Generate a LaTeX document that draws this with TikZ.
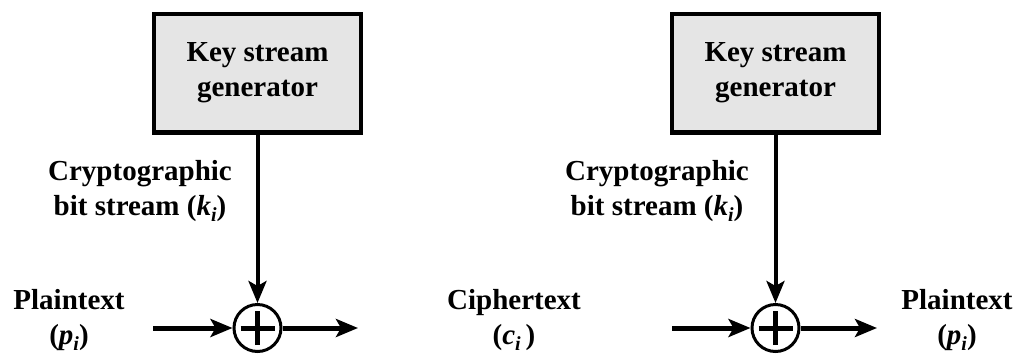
\documentclass[tikz,border=0pt]{standalone}
\usepackage{fontspec}
\setmainfont{Liberation Serif}
\usetikzlibrary{arrows.meta}
\newcommand\vsb[2]{\textit{#1}\raisebox{-0.22em}{\fontsize{20}{20}\selectfont\textit{#2}}}
\begin{document}
\begin{tikzpicture}[x=1pt,y=-1pt,
  every node/.style={font=\bfseries\fontsize{29}{35}\selectfont},
  genbox/.style={draw=black,line width=4.5pt,fill=black!10,minimum width=207pt,minimum height=118.5pt,inner sep=0pt,align=center},
  xorc/.style={circle,draw=black,line width=3pt,minimum size=47pt,inner sep=0pt},
  plusbar/.style={line width=5pt},
  harr/.style={line width=5pt,-{Stealth[length=22pt,width=18pt,inset=5pt]}},
  varr/.style={line width=4pt,-{Stealth[length=22pt,width=18pt,inset=5pt]}},
  lbl/.style={align=center,anchor=base,inner sep=0pt}]
\useasboundingbox (0,0) rectangle (1022,357);
% left (encryption)
\node[genbox] (k1) at (257.5,73) {Key stream\\generator};
\node[xorc] (c1) at (257.5,328) {};
\draw[plusbar] ([xshift=-17pt]c1.center) -- ([xshift=17pt]c1.center);
\draw[plusbar] ([yshift=-17pt]c1.center) -- ([yshift=17pt]c1.center);
\coordinate (in1) at (153,328);
\coordinate (out1) at (358,328);
\draw[varr] (k1.south) -- (c1.north);
\draw[harr] (in1) -- (c1.west);
\draw[harr] (c1.east) -- (out1);
\node[lbl] (bs1) at (140,215) {Cryptographic\\bit stream (\vsb{k}{i})};
\node[lbl] (p1) at (69,344) {Plaintext\\(\vsb{p}{i})};
% right (decryption)
\node[genbox] (k2) at (775.5,73) {Key stream\\generator};
\node[xorc] (c2) at (775.5,328) {};
\draw[plusbar] ([xshift=-17pt]c2.center) -- ([xshift=17pt]c2.center);
\draw[plusbar] ([yshift=-17pt]c2.center) -- ([yshift=17pt]c2.center);
\coordinate (in2) at (672,328);
\coordinate (out2) at (877,328);
\draw[varr] (k2.south) -- (c2.north);
\draw[harr] (in2) -- (c2.west);
\draw[harr] (c2.east) -- (out2);
\node[lbl] (bs2) at (657,215) {Cryptographic\\bit stream (\vsb{k}{i})};
\node[lbl] (ct2) at (514,344) {Ciphertext\\(\vsb{c}{i}\,)};
\node[lbl] (p2) at (957,344) {Plaintext\\(\vsb{p}{i})};
\end{tikzpicture}
\end{document}
